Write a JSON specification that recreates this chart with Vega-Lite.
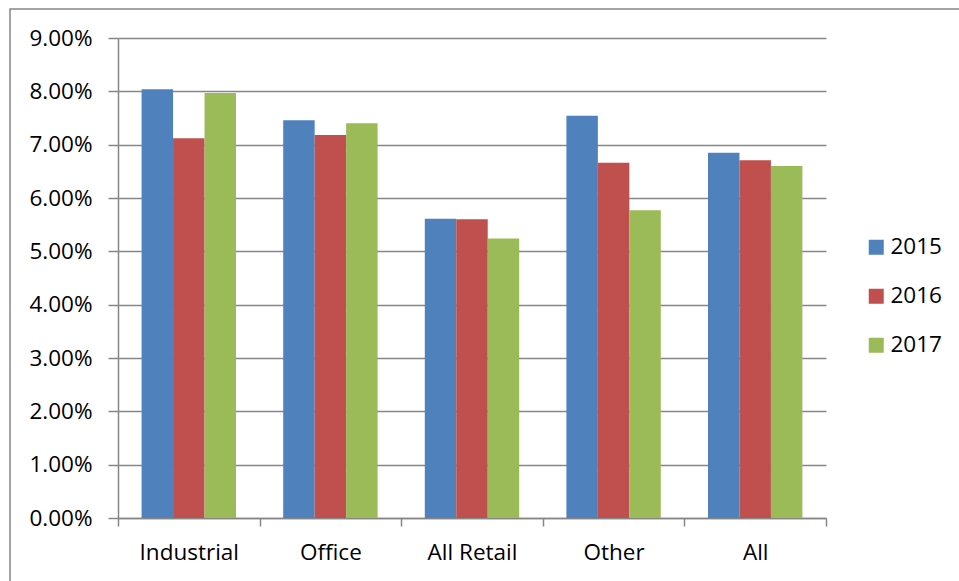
{
  "$schema": "https://vega.github.io/schema/vega-lite/v6.json",
  "width": 949,
  "height": 572,
  "autosize": {"type": "none"},
  "padding": {"left": 10, "top": 9, "right": 0, "bottom": 0},
  "background": "white",
  "data": {
    "values": [
      {"category": "Industrial", "year": "2015", "value": 0.0804},
      {"category": "Industrial", "year": "2016", "value": 0.0712},
      {"category": "Industrial", "year": "2017", "value": 0.0797},
      {"category": "Office", "year": "2015", "value": 0.0746},
      {"category": "Office", "year": "2016", "value": 0.0718},
      {"category": "Office", "year": "2017", "value": 0.0740},
      {"category": "All Retail", "year": "2015", "value": 0.0561},
      {"category": "All Retail", "year": "2016", "value": 0.0560},
      {"category": "All Retail", "year": "2017", "value": 0.0524},
      {"category": "Other", "year": "2015", "value": 0.0754},
      {"category": "Other", "year": "2016", "value": 0.0666},
      {"category": "Other", "year": "2017", "value": 0.0577},
      {"category": "All", "year": "2015", "value": 0.0685},
      {"category": "All", "year": "2016", "value": 0.0671},
      {"category": "All", "year": "2017", "value": 0.0660}
    ]
  },
  "mark": {"type": "bar"},
  "encoding": {
    "x": {
      "field": "category",
      "type": "nominal",
      "sort": ["Industrial", "Office", "All Retail", "Other", "All"],
      "scale": {"paddingInner": 0, "paddingOuter": 0, "range": [108, 816]},
      "axis": {
        "title": null,
        "labelAngle": 0,
        "tickBand": "extent",
        "tickSize": 8,
        "labelPadding": 15,
        "labelFontSize": 22.5,
        "grid": false,
        "offset": -63
      }
    },
    "xOffset": {
      "field": "year",
      "type": "nominal",
      "scale": {"paddingInner": 0, "paddingOuter": 0.75}
    },
    "y": {
      "field": "value",
      "type": "quantitative",
      "scale": {"domain": [0, 0.09], "nice": false, "range": [509, 29]},
      "axis": {
        "title": null,
        "format": ".2%",
        "values": [0, 0.01, 0.02, 0.03, 0.04, 0.05, 0.06, 0.07, 0.08, 0.09],
        "tickSize": 10,
        "labelPadding": 16,
        "labelFontSize": 22.5,
        "grid": true,
        "offset": -108
      }
    },
    "color": {
      "field": "year",
      "type": "nominal",
      "scale": {"range": ["#4F81BD", "#C0504D", "#9BBB59"]},
      "legend": {
        "title": null,
        "orient": "none",
        "legendX": 855,
        "legendY": 227,
        "symbolType": "square",
        "symbolSize": 225,
        "symbolStrokeWidth": 0,
        "symbolOpacity": 1,
        "labelFontSize": 22.5,
        "labelOffset": 3,
        "rowPadding": 26,
        "padding": 0
      }
    }
  },
  "config": {
    "view": {"stroke": "#868686", "strokeWidth": 1.5, "strokeDash": [949, 1521, 572, 10]},
    "font": "Open Sans",
    "axis": {
      "labelFont": "Open Sans",
      "labelColor": "#000000",
      "domainColor": "#868686",
      "domainWidth": 1.5,
      "tickColor": "#868686",
      "tickWidth": 1.5,
      "gridColor": "#868686",
      "gridWidth": 1.5,
      "gridOpacity": 1
    },
    "legend": {"labelFont": "Open Sans", "labelColor": "#000000"}
  }
}
